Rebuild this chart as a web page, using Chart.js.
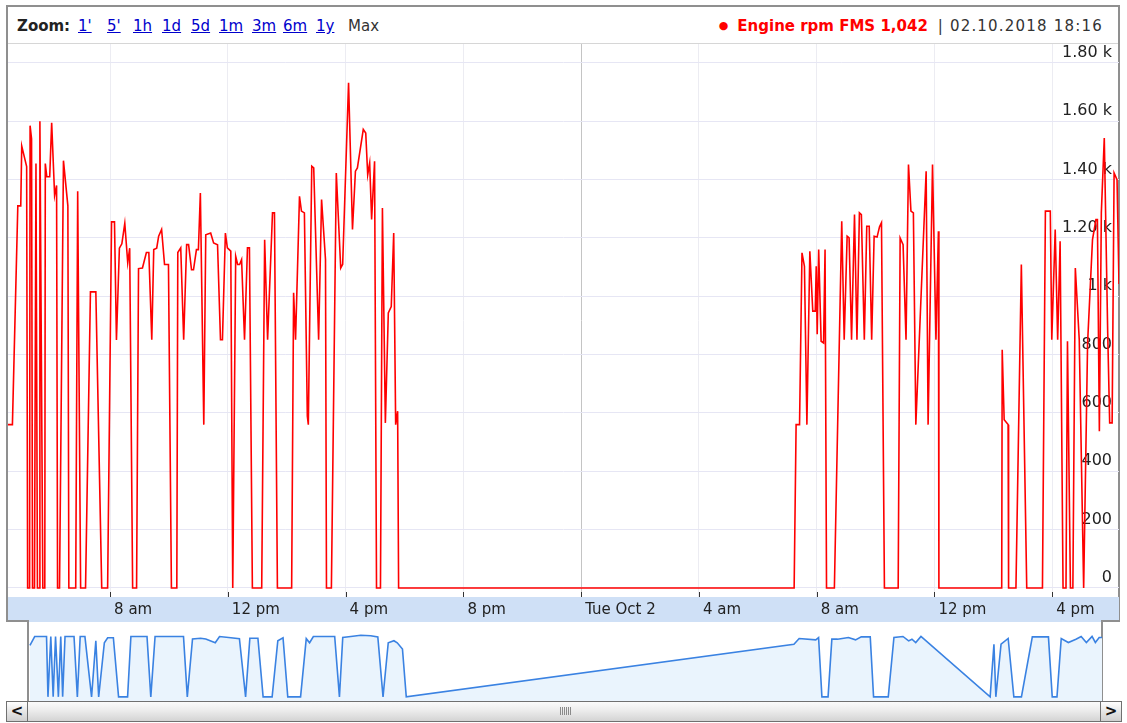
<!DOCTYPE html>
<html>
<head>
<meta charset="utf-8">
<title>Engine rpm FMS</title>
<script src="https://cdn.jsdelivr.net/npm/chart.js@4.4.1/dist/chart.umd.min.js"></script>
<style>
  html, body { margin: 0; padding: 0; background: #fff; }
  body { width: 1127px; height: 723px; position: relative; overflow: hidden;
         font-family: "DejaVu Sans", Verdana, sans-serif; }
  #panel { position: absolute; left: 6px; top: 5px; width: 1114px; height: 617px;
           box-sizing: border-box; border: 2px solid #8f8f8f; border-bottom: none; }
  #toolbar { position: absolute; left: 8px; top: 7px; width: 1110px; height: 36px;
             border-bottom: 1px solid #d6d6d6; font-size: 15px; }
  #toolbar .item { position: absolute; top: 10px; white-space: nowrap; }
  #toolbar b { color: #222; }
  #toolbar a { color: #0000cc; text-decoration: underline; }
  #toolbar .current { color: #333; }
  #legend { position: absolute; right: 15px; top: 10px; white-space: nowrap; color: #333; }
  #legend .dot { color: #ff0000; font-size: 11px; vertical-align: 2px; margin-right: 9px; }
  #legend .name { color: #ff0000; font-weight: bold; }
  #legend .sep { margin: 0 7px 0 10px; }
  #legend #stamp { letter-spacing: 1.2px; }
  #mainWrap { position: absolute; left: 8px; top: 44px; width: 1111px; height: 578px; }
  #navWrap { position: absolute; left: 29px; top: 622px; width: 1073px; height: 79px; }
  .edge { position: absolute; background: #8f8f8f; }
  #scroll { position: absolute; left: 6px; top: 701px; width: 1116px; height: 21px;
            box-sizing: border-box; border: 1px solid #707070;
            background: linear-gradient(#fbfbfb, #ececec 45%, #d4d4d4); }
  #scroll .btn { position: absolute; top: 0; width: 21px; height: 19px; box-sizing: border-box;
                 background: linear-gradient(#ffffff, #e6e6e6 50%, #cfcfcf);
                 font: bold 15px "DejaVu Sans", sans-serif; line-height: 18px; text-align: center; color: #111; }
  #scroll .left { left: 0; border-right: 1px solid #707070; }
  #scroll .right { right: 0; border-left: 1px solid #707070; }
  #scroll .grip { position: absolute; left: 553px; top: 5px; width: 11px; height: 8px;
                  background: repeating-linear-gradient(90deg, #8a8a8a 0 1px, transparent 1px 2px); }
</style>
</head>
<body>
<div id="panel"></div>
<div id="toolbar">
  <b class="item" style="left:9px">Zoom:</b>
  <a class="item" style="left:70px">1'</a>
  <a class="item" style="left:99px">5'</a>
  <a class="item" style="left:125px">1h</a>
  <a class="item" style="left:154px">1d</a>
  <a class="item" style="left:183px">5d</a>
  <a class="item" style="left:211px">1m</a>
  <a class="item" style="left:244px">3m</a>
  <a class="item" style="left:275px">6m</a>
  <a class="item" style="left:308px">1y</a>
  <span class="item current" style="left:340px">Max</span>
  <div id="legend"><span class="dot">&#9679;</span><span class="name" id="seriesName"></span><span class="sep">|</span><span id="stamp"></span></div>
</div>
<div id="mainWrap"><canvas id="mainCanvas"></canvas></div>
<div class="edge" style="left:6px; top:620px; width:23px; height:2px;"></div>
<div class="edge" style="left:27px; top:620px; width:2px; height:81px;"></div>
<div class="edge" style="left:1101px; top:620px; width:19px; height:2px;"></div>
<div class="edge" style="left:1101px; top:620px; width:2px; height:81px;"></div>
<div id="navWrap"><canvas id="navCanvas"></canvas></div>
<div id="scroll">
  <div class="btn left">&lt;</div>
  <div class="grip"></div>
  <div class="btn right">&gt;</div>
</div>

<script>
// minutes counted from 01.10.2018 00:00
const rpmTimes = [
  272, 281, 292, 298, 300, 310, 312, 316, 317, 320, 322, 326, 329, 332, 336, 337, 343, 347, 348, 351,
  357, 361, 367, 371, 373, 377, 385, 394, 396, 410, 414, 420, 430, 440, 451, 463, 475, 483, 489, 493,
  499, 504, 510, 516, 520, 526, 534, 538, 546, 554, 559, 565, 569, 575, 579, 585, 591, 599, 605, 616,
  618, 624, 630, 636, 640, 646, 650, 656, 660, 664, 671, 675, 685, 691, 699, 705, 709, 715, 719, 726,
  730, 736, 740, 744, 748, 754, 760, 764, 770, 789, 795, 801, 811, 815, 821, 850, 854, 858, 866, 870,
  876, 882, 884, 891, 895, 905, 911, 919, 921, 931, 941, 950, 954, 966, 974, 980, 984, 996, 1001, 1005,
  1009, 1013, 1019, 1023, 1031, 1035, 1041, 1047, 1053, 1058, 1062, 1066, 1068,
  1874, 1878, 1885, 1890, 1895, 1900, 1906, 1912, 1917, 1919, 1921, 1924, 1929, 1934, 1937, 1940, 1956,
  1971, 1976, 1982, 1986, 1991, 1997, 2002, 2007, 2011, 2017, 2022, 2027, 2032, 2037, 2043, 2048, 2052,
  2058, 2086, 2090, 2096, 2102, 2107, 2112, 2117, 2122, 2143, 2147, 2156, 2163, 2168, 2169, 2297, 2298,
  2302, 2310, 2311, 2326, 2337, 2348, 2380, 2386, 2396, 2399, 2406, 2411, 2416, 2422, 2428, 2431, 2437,
  2442, 2447, 2455, 2464, 2472, 2482, 2489, 2492, 2496, 2500, 2506, 2513, 2517, 2522, 2526, 2532, 2536
];
const rpmValues = [
  560, 560, 1310, 1310, 1515, 1445, 0, 0, 1585, 1540, 0, 0, 1455, 0, 0, 1600, 0, 0, 1455, 1410,
  1410, 1595, 1345, 1380, 0, 0, 1465, 1310, 0, 0, 1360, 0, 0, 1015, 1015, 0, 0, 1255, 1255, 850,
  1165, 1180, 1250, 1115, 1165, 0, 0, 1095, 1097, 1150, 1150, 851, 1160, 1165, 1206, 1229, 1109, 1109, 0, 0,
  1150, 1166, 851, 1177, 1177, 1091, 1091, 1160, 1160, 1354, 560, 1211, 1217, 1183, 1177, 851, 851, 1217, 1166, 1155,
  0, 1137, 1109, 1109, 1126, 851, 1166, 1166, 0, 0, 1194, 851, 1286, 1286, 0, 0, 1012, 851, 1343, 1292,
  1286, 589, 560, 1446, 1440, 851, 1332, 1126, 0, 0, 1423, 1097, 1110, 1732, 1229, 1429, 1440, 1572, 1560, 1417,
  1457, 1263, 1463, 0, 0, 1303, 566, 943, 965, 1217, 560, 606, 0,
  0, 560, 560, 1149, 1103, 560, 1154, 949, 949, 1103, 870, 1160, 846, 840, 1160, 0, 0,
  1257, 851, 1206, 1200, 851, 1280, 851, 1286, 1280, 851, 1240, 1240, 851, 1206, 1203, 1238, 1252,
  0, 0, 1200, 1177, 851, 1452, 1292, 1286, 560, 1429, 560, 1452, 851, 1223, 0, 0, 817,
  577, 560, 0, 0, 1109, 0, 0, 1292, 1292, 851, 1229, 851, 1189, 0, 0, 846, 0,
  0, 1097, 851, 0, 840, 1194, 1263, 1263, 537, 1286, 1543, 874, 566, 566, 1423, 1400, 1042
];

// coarser overview series for the range selector
const navTimes = [
  274, 284, 309, 312, 318, 323, 328, 334, 339, 343, 348, 367, 374, 380, 390, 404, 413, 419, 431, 438,
  450, 461, 480, 487, 521, 529, 538, 598, 606, 617, 634, 645, 665, 674, 698, 716, 729, 738, 755, 766,
  785, 797, 808, 818, 845, 857, 864, 872, 917, 927, 934, 951, 972, 993, 1008, 1019, 1030, 1042, 1049, 1060,
  1068, 1886, 1897, 1932, 1938, 1945, 1958, 1966, 1978, 2001, 2016, 2028, 2047, 2054, 2085, 2097, 2116, 2128, 2135, 2143,
  2154, 2300, 2308, 2312, 2323, 2338, 2350, 2366, 2389, 2423, 2431, 2441, 2450, 2465, 2481, 2492, 2503, 2515, 2522, 2530, 2536
];
const navValues = [
  1240, 1450, 1450, 0, 1450, 0, 1450, 0, 1450, 0, 1450, 1450, 0, 1450, 1450, 0, 1350, 0, 1300, 1420,
  1420, 0, 0, 1450, 1450, 0, 1450, 1450, 0, 1390, 1410, 1390, 1300, 1450, 1420, 1400, 0, 1410, 1410, 0,
  0, 1350, 1420, 0, 0, 1400, 1300, 1450, 1450, 0, 1430, 1450, 1480, 1470, 1440, 0, 1300, 1350, 1300, 1150,
  0, 1266, 1404, 1371, 1427, 0, 0, 1387, 1387, 1427, 1371, 1442, 1442, 0, 0, 1427, 1452, 1346, 1387, 1307,
  1452, 0, 1266, 0, 1266, 1404, 0, 0, 1442, 1442, 0, 0, 1404, 1307, 1387, 1452, 1307, 1452, 1307, 1427, 1427
];

const xTickMinutes = [480, 720, 960, 1200, 1440, 1680, 1920, 2160, 2400];
const xTickLabels = ['8 am', '12 pm', '4 pm', '8 pm', 'Tue Oct 2', '4 am', '8 am', '12 pm', '4 pm'];
const yTickValues = [0, 200, 400, 600, 800, 1000, 1200, 1400, 1600, 1800];

const seriesLabel = 'Engine rpm FMS';
const xMin = 272, xMax = 2536;
const fontFamily = '"DejaVu Sans", Verdana, sans-serif';

function pad2(n) { return String(n).padStart(2, '0'); }

function stampFor(minutes) {
  const day = 1 + Math.floor(minutes / 1440);
  const rest = minutes % 1440;
  return pad2(day) + '.10.2018 ' + pad2(Math.floor(rest / 60)) + ':' + pad2(rest % 60);
}

function rpmLabel(v) {
  if (v < 1000) return String(v);
  if (v === 1000) return '1 k';
  return (v / 1000).toFixed(2) + ' k';
}

const lastIdx = rpmValues.length - 1;
document.getElementById('seriesName').textContent =
  seriesLabel + ' ' + rpmValues[lastIdx].toLocaleString('en-US');
document.getElementById('stamp').textContent = stampFor(rpmTimes[lastIdx]);

// blue strip under the plot plus the small tick marks above it
const axisBand = {
  id: 'axisBand',
  beforeDraw(chart) {
    const { ctx, chartArea } = chart;
    ctx.save();
    ctx.fillStyle = '#cfe0f6';
    ctx.fillRect(0, chartArea.bottom, chart.width, chart.height - chartArea.bottom);
    ctx.restore();
  },
  afterDraw(chart) {
    const { ctx, chartArea } = chart;
    const xs = chart.scales.x;
    ctx.save();
    ctx.strokeStyle = '#333';
    ctx.lineWidth = 1;
    ctx.beginPath();
    xTickMinutes.forEach(m => {
      const px = Math.round(xs.getPixelForValue(m)) + 0.5;
      ctx.moveTo(px, chartArea.bottom - 5);
      ctx.lineTo(px, chartArea.bottom);
    });
    ctx.stroke();
    ctx.restore();
  }
};

const mainChart = new Chart(document.getElementById('mainCanvas'), {
  type: 'line',
  data: {
    datasets: [{
      label: seriesLabel,
      data: rpmTimes.map((t, i) => ({ x: t, y: rpmValues[i] })),
      borderColor: '#ff0000',
      borderWidth: 1.6,
      pointRadius: 0,
      tension: 0,
      fill: false
    }]
  },
  options: {
    responsive: true,
    maintainAspectRatio: false,
    animation: false,
    layout: { padding: 0 },
    plugins: { legend: { display: false }, tooltip: { enabled: false } },
    scales: {
      x: {
        type: 'linear',
        min: xMin,
        max: xMax,
        afterBuildTicks: s => { s.ticks = xTickMinutes.map(v => ({ value: v })); },
        afterFit: s => { s.height = 25; s.paddingLeft = 0; s.paddingRight = 0; },
        ticks: {
          callback: v => xTickLabels[xTickMinutes.indexOf(v)],
          align: 'start',
          labelOffset: 4,
          padding: 4,
          maxRotation: 0,
          autoSkip: false,
          color: '#222',
          font: { family: fontFamily, size: 15 }
        },
        grid: {
          color: c => (c.tick && c.tick.value === 1440) ? '#c4c4c4' : '#ececf2',
          drawTicks: false
        },
        border: { display: false }
      },
      y: {
        position: 'right',
        min: -31,
        max: 1865,
        afterBuildTicks: s => { s.ticks = yTickValues.map(v => ({ value: v })); },
        afterFit: s => { s.width = 0; s.paddingTop = 0; s.paddingBottom = 0; },
        ticks: {
          mirror: true,
          padding: -7,
          labelOffset: -10,
          callback: v => rpmLabel(v),
          color: '#222',
          font: { family: fontFamily, size: 16 }
        },
        grid: { color: '#e6e6f4', drawTicks: false },
        border: { display: false }
      }
    }
  },
  plugins: [axisBand]
});

const navChart = new Chart(document.getElementById('navCanvas'), {
  type: 'line',
  data: {
    datasets: [{
      data: navTimes.map((t, i) => ({ x: t, y: navValues[i] })),
      borderColor: '#3a82e2',
      borderWidth: 1.6,
      backgroundColor: '#eaf4fd',
      fill: 'start',
      pointRadius: 0,
      tension: 0
    }]
  },
  options: {
    responsive: true,
    maintainAspectRatio: false,
    animation: false,
    layout: { padding: 0 },
    plugins: { legend: { display: false }, tooltip: { enabled: false } },
    scales: {
      x: { type: 'linear', min: xMin, max: xMax, display: false },
      y: { min: -100, max: 1800, display: false }
    }
  }
});
</script>
</body>
</html>
